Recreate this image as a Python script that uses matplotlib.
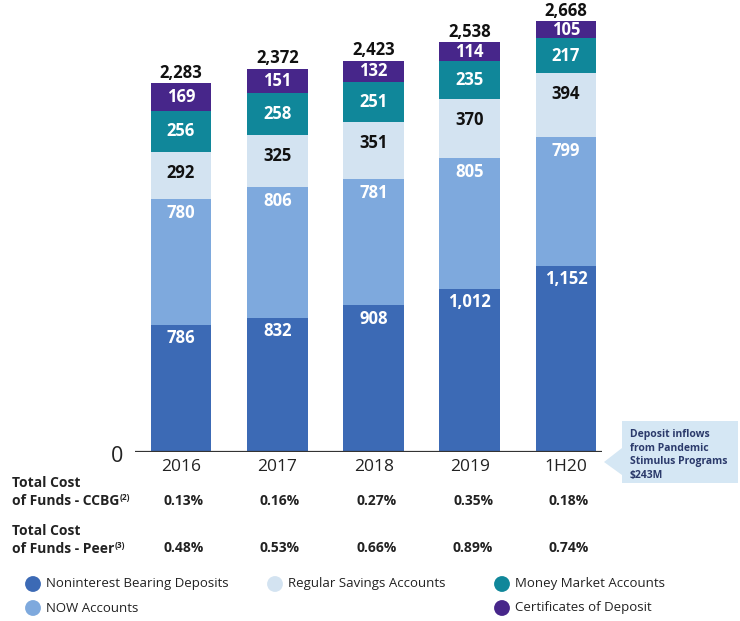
import matplotlib
matplotlib.use("Agg")
import matplotlib.pyplot as plt
import numpy as np
from matplotlib.patches import Polygon

plt.rcParams['font.family'] = ['Open Sans', 'DejaVu Sans']

years = ['2016', '2017', '2018', '2019', '1H20']
noninterest = [786, 832, 908, 1012, 1152]
now_accts = [780, 806, 781, 805, 799]
savings = [292, 325, 351, 370, 394]
money_mkt = [256, 258, 251, 235, 217]
cds = [169, 151, 132, 114, 105]
totals = [2283, 2372, 2423, 2538, 2668]
cost_ccbg = ['0.13%', '0.16%', '0.27%', '0.35%', '0.18%']
cost_peer = ['0.48%', '0.53%', '0.66%', '0.89%', '0.74%']

names = ['Noninterest Bearing Deposits', 'NOW Accounts', 'Regular Savings Accounts',
         'Money Market Accounts', 'Certificates of Deposit']
colors = ['#3c6ab5', '#7ea9dd', '#d3e3f1', '#10879a', '#47268a']
label_col = ['white', 'white', '#111111', 'white', 'white']
# how far below a segment's top its label sits (points); None = centred
label_drop = [9.5, 10, 15, None, None]

W, H = 740, 621
fig = plt.figure(figsize=(W / 100, H / 100), dpi=100)
fig.patch.set_facecolor('white')

# main bar axes, placed in pixel terms
left, right, base, top = 135, 602, 452, 11
ax = fig.add_axes([left / W, (H - base) / H, (right - left) / W, (base - top) / H])
x = np.arange(len(years))
ax.set_xlim(-0.478, 4.374)
ax.set_ylim(0, 2730)
ax.axis('off')

series = [noninterest, now_accts, savings, money_mkt, cds]
bottom = np.zeros(len(years))
for vals, col, tc, drop in zip(series, colors, label_col, label_drop):
    vals = np.array(vals)
    ax.bar(x, vals, 0.63, bottom=bottom, color=col, zorder=2)
    for i, v in enumerate(vals):
        if drop is None:
            ax.text(x[i], bottom[i] + v / 2, f'{v:,}', ha='center', va='center',
                    color=tc, fontsize=12, fontweight='bold')
        else:
            ax.annotate(f'{v:,}', (x[i], bottom[i] + v), xytext=(0, -drop),
                        textcoords='offset points', ha='center', va='center',
                        color=tc, fontsize=12, fontweight='bold')
    bottom += vals

for i, t in enumerate(totals):
    ax.annotate(f'{t:,}', (x[i], t), xytext=(0, 7.5), textcoords='offset points',
                ha='center', va='center', fontsize=12, fontweight='bold', color='#111111',
                annotation_clip=False)

ax.axhline(0, color='#333333', lw=1.6, zorder=3)

# overlay in pixel coordinates for the text around the chart
ov = fig.add_axes([0, 0, 1, 1], zorder=-1)
ov.set_xlim(0, W)
ov.set_ylim(H, 0)
ov.axis('off')

ov.text(123, 456, '0', ha='right', va='center', fontsize=15.5, color='#222222')

centers = [181, 277, 374, 470, 566]
for cx, yr, c1, c2 in zip(centers, years, cost_ccbg, cost_peer):
    ov.text(cx, 467, yr, ha='center', va='center', fontsize=12.5, color='#222222')
    ov.text(cx + 3, 501, c1, ha='center', va='center', fontsize=10, fontweight='bold',
            color='#222222')
    ov.text(cx + 3, 548, c2, ha='center', va='center', fontsize=10, fontweight='bold',
            color='#222222')

for y0, lbl, sup in [(483, 'of Funds - CCBG', '(2)'), (531, 'of Funds - Peer', '(3)')]:
    ov.text(12, y0, 'Total Cost', ha='left', va='center', fontsize=10,
            fontweight='bold', color='#222222')
    t = ov.text(12, y0 + 18, lbl, ha='left', va='center', fontsize=10,
                fontweight='bold', color='#222222')
    ov.annotate(sup, xy=(1, 0.75), xycoords=t, ha='left', va='center',
                fontsize=6, fontweight='bold', color='#222222')

# callout box
box = Polygon([(622, 421), (738, 421), (738, 483), (622, 483), (622, 475),
               (604, 462), (622, 448)], closed=True, facecolor='#d5e7f4',
              edgecolor='none')
ov.add_patch(box)
ov.text(630, 455, 'Deposit inflows\nfrom Pandemic\nStimulus Programs\n$243M',
        ha='left', va='center', fontsize=7.5, fontweight='bold',
        color='#2b3a6b', linespacing=1.3)

# legend
legend_pos = [(33, 584), (33, 608), (275, 584), (502, 584), (502, 608)]
for (lx, ly), name, col in zip(legend_pos, names, colors):
    ov.scatter([lx], [ly], s=130, color=col, edgecolors='none')
    ov.text(lx + 13, ly, name, ha='left', va='center', fontsize=9.5, color='#222222')

fig.savefig('out.png', dpi=100, facecolor='white')
